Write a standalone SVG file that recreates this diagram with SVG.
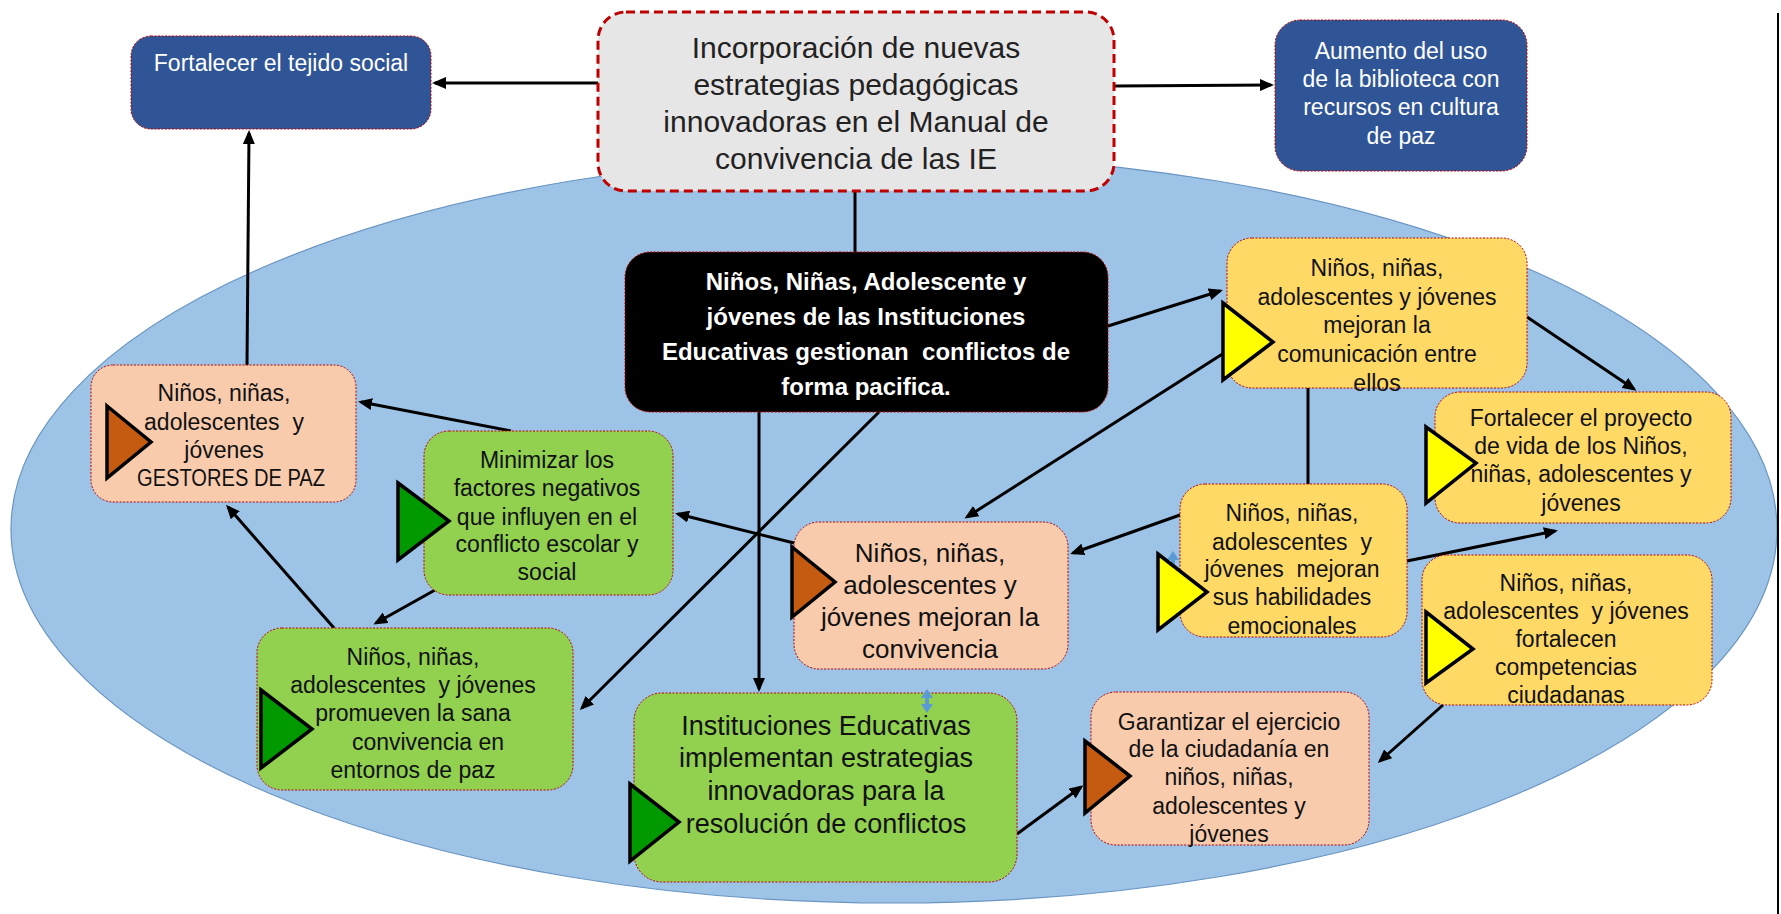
<svg xmlns="http://www.w3.org/2000/svg" width="1781" height="914" viewBox="0 0 1781 914">
<style>
text{font-family:"Liberation Sans",Arial,sans-serif;white-space:pre;text-anchor:middle;fill:#111}
.s23{font-size:23px}
.w{fill:#fff}
.box{stroke:#C00000;stroke-width:1;stroke-dasharray:2 1.5}
.blue{fill:#2F5597}
.yel{fill:#FFD966}
.pch{fill:#F8CBAD}
.grn{fill:#92D050}
.tri{stroke:#000;stroke-width:3.5;stroke-linejoin:miter}
.ty{fill:#FFFF00}
.to{fill:#C55A11}
.tg{fill:#009900}
.c{fill:none;stroke:#000;stroke-width:3}
.a{marker-end:url(#ah)}
</style>
<defs>
<marker id="ah" markerUnits="userSpaceOnUse" markerWidth="14" markerHeight="12" refX="11" refY="6" orient="auto">
<path d="M0,0 L14,6 L0,12 z" fill="#000"/>
</marker>
</defs>
<rect width="1781" height="914" fill="#fff"/>
<ellipse cx="894" cy="529" rx="883" ry="374" fill="#9DC3E6" stroke="#6A95C2" stroke-width="1.2"/>
<line x1="1778" y1="13" x2="1778" y2="914" stroke="#000" stroke-width="2"/>
<g id="connectors">
<path class="c a" d="M598,83 L435,83"/>
<path class="c a" d="M1114,86 L1271,85"/>
<path class="c" d="M855,191 L855,252"/>
<path class="c a" d="M247,365 L249,133"/>
<path class="c a" d="M1108,326 L1220,291"/>
<path class="c a" d="M1527,317 L1634,389"/>
<path class="c" d="M1308,388 L1308,484"/>
<path class="c a" d="M1224,353 L967,517"/>
<path class="c a" d="M1180,515 L1073,553"/>
<path class="c a" d="M1407,561 L1555,531"/>
<path class="c a" d="M1443,705 L1380,761"/>
<path class="c a" d="M1017,834 L1081,787"/>
<path class="c a" d="M759,412 L759,689"/>
<path class="c a" d="M879,412 L582,708"/>
<path class="c a" d="M794,543 L678,514"/>
<path class="c a" d="M511,431 L361,402"/>
<path class="c a" d="M435,590 L376,623"/>
<path class="c a" d="M334,628 L228,507"/>
</g>
<g id="n-top">
<rect x="598" y="12" width="516" height="179" rx="28" fill="#E7E6E6" stroke="#C00000" stroke-width="3" stroke-dasharray="9 5"/>
<text font-size="30" style="fill:#222"><tspan x="856" y="58">Incorporación de nuevas</tspan><tspan x="856" y="95">estrategias pedagógicas</tspan><tspan x="856" y="132">innovadoras en el Manual de</tspan><tspan x="856" y="169">convivencia de las IE</tspan></text>
</g>
<g id="n-tejido">
<rect class="box blue" x="131" y="36" width="300" height="93" rx="20"/>
<text class="s23 w"><tspan x="281" y="71">Fortalecer el tejido social</tspan></text>
</g>
<g id="n-biblioteca">
<rect class="box blue" x="1275" y="20" width="252" height="151" rx="25"/>
<text class="s23 w"><tspan x="1401" y="59">Aumento del uso</tspan><tspan x="1401" y="87">de la biblioteca con</tspan><tspan x="1401" y="115">recursos en cultura</tspan><tspan x="1401" y="144">de paz</tspan></text>
</g>
<g id="n-central">
<rect class="box" x="625" y="252" width="483" height="160" rx="25" fill="#000"/>
<text class="w" font-size="24" font-weight="bold"><tspan x="866" y="290">Niños, Niñas, Adolescente y</tspan><tspan x="866" y="325">jóvenes de las Instituciones</tspan><tspan x="866" y="360">Educativas gestionan  conflictos de</tspan><tspan x="866" y="395">forma pacifica.</tspan></text>
</g>
<g id="n-comunicacion">
<rect class="box yel" x="1227" y="238" width="300" height="150" rx="25"/>
<polygon class="tri ty" points="1223,303 1273,342 1223,380"/>
<text class="s23"><tspan x="1377" y="276">Niños, niñas,</tspan><tspan x="1377" y="305">adolescentes y jóvenes</tspan><tspan x="1377" y="333">mejoran la</tspan><tspan x="1377" y="362">comunicación entre</tspan><tspan x="1377" y="391">ellos</tspan></text>
</g>
<g id="n-gestores">
<rect class="box pch" x="91" y="365" width="265" height="137" rx="22"/>
<polygon class="tri to" points="107,406 151,442 107,478"/>
<text class="s23"><tspan x="224" y="401">Niños, niñas,</tspan><tspan x="224" y="430">adolescentes  y</tspan><tspan x="224" y="458">jóvenes</tspan><tspan x="231" y="486" textLength="188" lengthAdjust="spacingAndGlyphs">GESTORES DE PAZ</tspan></text>
</g>
<g id="n-minimizar">
<rect class="box grn" x="424" y="431" width="249" height="164" rx="25"/>
<polygon class="tri tg" points="398,483 449,521 398,560"/>
<text class="s23"><tspan x="547" y="468">Minimizar los</tspan><tspan x="547" y="496">factores negativos</tspan><tspan x="547" y="525">que influyen en el</tspan><tspan x="547" y="552">conflicto escolar y</tspan><tspan x="547" y="580">social</tspan></text>
</g>
<g id="n-promueven">
<rect class="box grn" x="257" y="628" width="316" height="162" rx="25"/>
<polygon class="tri tg" points="261,690 312,729 261,768"/>
<text class="s23"><tspan x="413" y="665">Niños, niñas,</tspan><tspan x="413" y="693">adolescentes  y jóvenes</tspan><tspan x="413" y="721">promueven la sana</tspan><tspan x="428" y="750">convivencia en</tspan><tspan x="413" y="778">entornos de paz</tspan></text>
</g>
<g id="n-instituciones">
<rect class="box grn" x="634" y="693" width="383" height="189" rx="28"/>
<polygon class="tri tg" points="630,784 679,822 630,861"/>
<text font-size="27"><tspan x="826" y="735">Instituciones Educativas</tspan><tspan x="826" y="767">implementan estrategias</tspan><tspan x="826" y="800">innovadoras para la</tspan><tspan x="826" y="833">resolución de conflictos</tspan></text>
</g>
<g id="n-convivencia">
<rect class="box pch" x="794" y="522" width="274" height="147" rx="25"/>
<polygon class="tri to" points="792,547 835,582 792,617"/>
<text font-size="26"><tspan x="930" y="562">Niños, niñas,</tspan><tspan x="930" y="594">adolescentes y</tspan><tspan x="930" y="626">jóvenes mejoran la</tspan><tspan x="930" y="658">convivencia</tspan></text>
</g>
<g id="n-proyecto">
<rect class="box yel" x="1435" y="392" width="296" height="131" rx="25"/>
<polygon class="tri ty" points="1426,427 1476,463 1426,503"/>
<text class="s23"><tspan x="1581" y="426">Fortalecer el proyecto</tspan><tspan x="1581" y="454">de vida de los Niños,</tspan><tspan x="1581" y="482">niñas, adolescentes y</tspan><tspan x="1581" y="511">jóvenes</tspan></text>
</g>
<g id="n-habilidades">
<rect class="box yel" x="1180" y="484" width="227" height="153" rx="25"/>
<text class="s23"><tspan x="1292" y="521">Niños, niñas,</tspan><tspan x="1292" y="550">adolescentes  y</tspan><tspan x="1292" y="577">jóvenes  mejoran</tspan><tspan x="1292" y="605">sus habilidades</tspan><tspan x="1292" y="634">emocionales</tspan></text>
<path fill="#5B9BD5" d="M1173,551 L1179,560 L1175,560 L1175,570 L1171,570 L1171,560 L1167,560 z"/>
<polygon class="tri ty" points="1158,554 1207,592 1158,630"/>
</g>
<g id="n-competencias">
<rect class="box yel" x="1422" y="555" width="290" height="150" rx="25"/>
<polygon class="tri ty" points="1426,612 1473,649 1426,683"/>
<text class="s23"><tspan x="1566" y="591">Niños, niñas,</tspan><tspan x="1566" y="619">adolescentes  y jóvenes</tspan><tspan x="1566" y="647">fortalecen</tspan><tspan x="1566" y="675">competencias</tspan><tspan x="1566" y="703">ciudadanas</tspan></text>
</g>
<g id="n-garantizar">
<rect class="box pch" x="1091" y="692" width="278" height="153" rx="25"/>
<polygon class="tri to" points="1085,741 1130,776 1085,813"/>
<text class="s23"><tspan x="1229" y="730">Garantizar el ejercicio</tspan><tspan x="1229" y="757">de la ciudadanía en</tspan><tspan x="1229" y="785">niños, niñas,</tspan><tspan x="1229" y="814">adolescentes y</tspan><tspan x="1229" y="842">jóvenes</tspan></text>
</g>
<g id="marks" fill="#5B9BD5">
<path d="M927,689 L933,698 L929,698 L929,704 L933,704 L927,713 L921,704 L925,704 L925,698 L921,698 z"/>
</g>
</svg>
